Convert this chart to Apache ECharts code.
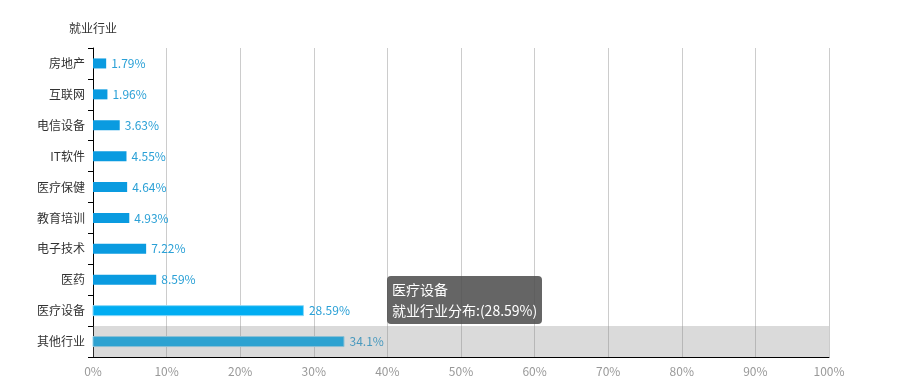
<!DOCTYPE html>
<html>
<head>
<meta charset="utf-8">
<script src="https://cdn.jsdelivr.net/npm/echarts@6/dist/echarts.min.js"></script>
<style>
html,body{margin:0;padding:0;background:#fff;}
#chart{width:905px;height:386px;}
</style>
</head>
<body>
<div id="chart"></div>
<script>
const categories = ['房地产', '互联网', '电信设备', 'IT软件', '医疗保健', '教育培训', '电子技术', '医药', '医疗设备', '其他行业'];
const values = [1.79, 1.96, 3.63, 4.55, 4.64, 4.93, 7.22, 8.59, 28.59, 34.1];
const xTicks = [0, 10, 20, 30, 40, 50, 60, 70, 80, 90, 100];
const seriesName = '就业行业分布';
const axisName = '就业行业';
const tooltipCategory = '医疗设备';
const shadowCategory = '其他行业';

const font = '"Noto Sans CJK SC", "Microsoft YaHei", sans-serif';
const chart = echarts.init(document.getElementById('chart'));
chart.setOption({
  animation: false,
  textStyle: { fontFamily: font },
  grid: { left: 93, right: 76, top: 48, bottom: 29, containLabel: false, outerBoundsMode: 'none' },
  tooltip: {
    trigger: 'axis',
    triggerOn: 'none',
    alwaysShowContent: true,
    position: [387, 276],
    backgroundColor: 'rgba(80,80,80,0.88)',
    borderWidth: 0,
    padding: [3, 5],
    extraCssText: 'box-shadow:none;border-radius:4px;',
    textStyle: { color: '#fff', fontSize: 14, fontFamily: font },
    axisPointer: {
      type: 'shadow',
      z: 10,
      triggerEmphasis: false,
      shadowStyle: { color: 'rgba(140,140,140,0.32)' }
    },
    formatter: function () {
      const i = categories.indexOf(tooltipCategory);
      return '<div style="line-height:21px">' + categories[i] + '<br/>' + seriesName + ':(' + values[i] + '%)</div>';
    }
  },
  xAxis: {
    type: 'value',
    min: xTicks[0],
    max: xTicks[xTicks.length - 1],
    interval: xTicks[1] - xTicks[0],
    axisLine: { show: true, lineStyle: { color: '#000', width: 1 } },
    axisTick: { show: false },
    axisLabel: { color: '#999', fontSize: 12, margin: 8, formatter: '{value}%' },
    splitLine: { show: true, lineStyle: { color: '#ccc', width: 1 } }
  },
  yAxis: {
    type: 'category',
    inverse: true,
    data: categories,
    name: axisName,
    nameLocation: 'start',
    nameGap: 14,
    nameTextStyle: { color: '#333', fontSize: 12, align: 'center' },
    axisLine: { show: true, lineStyle: { color: '#000', width: 1 } },
    axisTick: { show: true, length: 5, lineStyle: { color: '#000' } },
    axisLabel: { color: '#333', fontSize: 12, margin: 8 },
    splitLine: { show: false }
  },
  series: [{
    name: seriesName,
    type: 'bar',
    data: values,
    barWidth: 10,
    itemStyle: { color: '#0a9be0' },
    label: {
      show: true,
      position: 'right',
      distance: 5,
      color: '#2aa0d6',
      fontSize: 12,
      formatter: '{c}%'
    },
    emphasis: {
      itemStyle: { color: '#00adf2', borderColor: '#8ad8f7', borderWidth: 1 },
      label: { color: '#2aa0d6' }
    }
  }]
});
chart.dispatchAction({ type: 'showTip', seriesIndex: 0, dataIndex: categories.indexOf(shadowCategory) });
chart.dispatchAction({ type: 'highlight', seriesIndex: 0, dataIndex: categories.indexOf(tooltipCategory) });
</script>
</body>
</html>
